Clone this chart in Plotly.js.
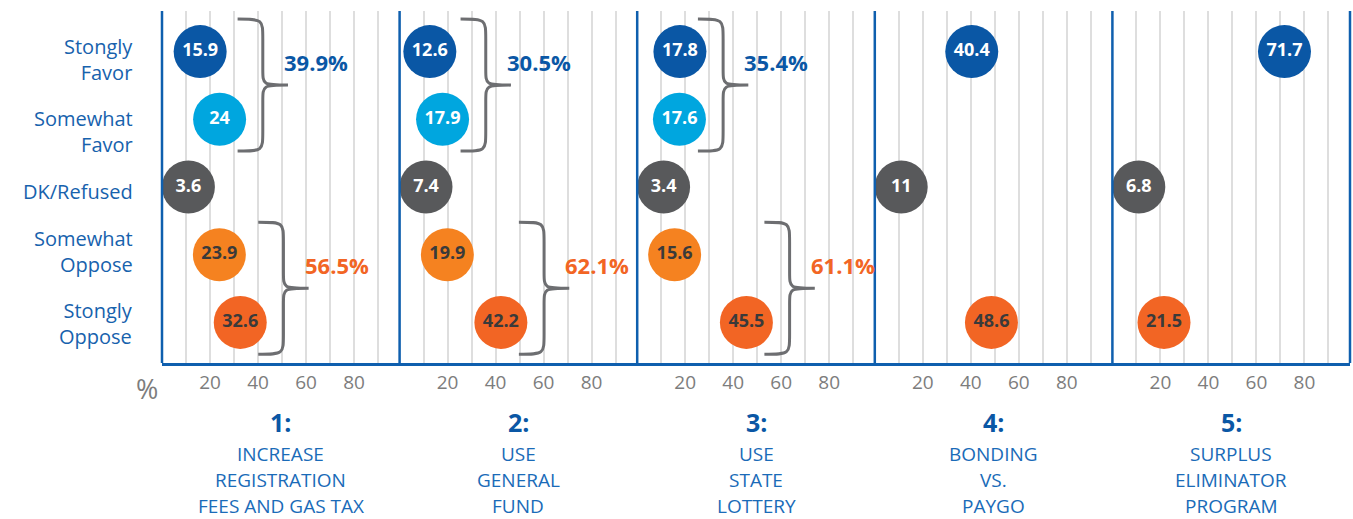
<!DOCTYPE html>
<html><head><meta charset="utf-8">
<script src="https://cdn.plot.ly/plotly-3.0.1.min.js"></script>
<style>html,body{margin:0;padding:0;background:#fff;}#chart{width:1353px;height:519px;}</style>
</head><body><div id="chart"></div>
<script>
const categories = ['Stongly<br>Favor','Somewhat<br>Favor','DK/Refused','Somewhat<br>Oppose','Stongly<br>Oppose'];
const stronglyFavor  = [15.9, 12.6, 17.8, 40.4, 71.7];
const somewhatFavor  = [24,   17.9, 17.6, null, null];
const dkRefused      = [3.6,  7.4,  3.4,  11,   6.8];
const somewhatOppose = [23.9, 19.9, 15.6, null, null];
const stronglyOppose = [32.6, 42.2, 45.5, 48.6, 21.5];
const panelNumbers = ['1:','2:','3:','4:','5:'];
const panelTitles = [
  ['INCREASE','REGISTRATION','FEES AND GAS TAX'],
  ['USE','GENERAL','FUND'],
  ['USE','STATE','LOTTERY'],
  ['BONDING','VS.','PAYGO'],
  ['SURPLUS','ELIMINATOR','PROGRAM']
];
const xTickVals = [10,20,30,40,50,60,70,80,90];
const xTickText = ['','20','','40','','60','','80',''];

const BLUE='#0a57a5', LBLUE='#00a6df', GREY='#58595b', ORANGE='#f58220', RED='#f26524';
const rowColors = [BLUE, LBLUE, GREY, ORANGE, RED];
const rowText = ['#ffffff','#ffffff','#ffffff','#3a3a3a','#3a3a3a'];
const BRACE='#6d6e71', AXIS='#0f5fae', FONT='Open Sans, Arial, sans-serif';
const minX = 11;
// vertical pixel offset of each category label relative to its row centre (label layout)
const labelShift = [7.5, 12.5, 4.5, -3, 1];
const titleLineY = [453.5, 480, 506];

const series = [stronglyFavor, somewhatFavor, dkRefused, somewhatOppose, stronglyOppose];
const nP = 5;
const traces = [], shapes = [], annotations = [];
const layout = {
  width:1353, height:519, margin:{l:162,r:3,t:11,b:156},
  paper_bgcolor:'#fff', plot_bgcolor:'#fff', showlegend:false,
  font:{family:FONT},
  yaxis:{range:[4.6,-0.6], tickvals:[0,1,2,3,4], ticktext:categories, showticklabels:false, showgrid:false, zeroline:false,
         showline:false, ticks:'', anchor:'x', fixedrange:true}
};

function bracePath(x0, x1, yTop, yBot){
  const xm = (x0+x1)/2, yMid=(yTop+yBot)/2, r=0.3, rt=0.24;
  return `M${x0},${yTop} C${xm},${yTop} ${xm},${yTop} ${xm},${yTop+r} L${xm},${yMid-rt} C${xm},${yMid} ${xm},${yMid} ${x1},${yMid} C${xm},${yMid} ${xm},${yMid} ${xm},${yMid+rt} L${xm},${yBot-r} C${xm},${yBot} ${xm},${yBot} ${x0},${yBot}`;
}

categories.forEach((c,i)=>{
  annotations.push({xref:'paper', yref:'y', x:0, y:i, xshift:-27, yshift:-labelShift[i], xanchor:'right', yanchor:'middle',
    align:'right', showarrow:false, text:c, font:{size:20,color:'#1762ad',family:FONT}});
});

for(let p=0;p<nP;p++){
  const xa = p===0?'x':'x'+(p+1);
  const key = p===0?'xaxis':'xaxis'+(p+1);
  layout[key] = {domain:[p/nP,(p+1)/nP], range:[0,99], anchor:'y', tickvals:xTickVals, ticktext:xTickText,
    showgrid:true, gridcolor:'#dedede', gridwidth:2, zeroline:false, showline:true, linecolor:AXIS, linewidth:2.5,
    ticks:'', ticklabelstandoff:1, tickfont:{size:19,color:'#7d7d7d',family:FONT}, fixedrange:true};
  const xs=[], ys=[], cols=[], tcols=[], txt=[];
  series.forEach((s,i)=>{
    const v=s[p]; if(v===null) return;
    xs.push(Math.max(v,minX)); ys.push(i); cols.push(rowColors[i]); tcols.push(rowText[i]); txt.push(String(v));
  });
  traces.push({type:'scatter', mode:'markers+text', xaxis:xa, yaxis:'y', x:xs, y:ys, text:txt,
    textposition:'middle center', hoverinfo:'skip', cliponaxis:false,
    marker:{size:53, color:cols, line:{width:0}},
    textfont:{size:18, color:tcols, family:FONT, weight:700}});
  shapes.push({type:'line', xref:xa+' domain', yref:'y domain', x0:0, x1:0, y0:0, y1:1, line:{color:AXIS,width:2.5}});
  if(p===nP-1) shapes.push({type:'line', xref:xa+' domain', yref:'y domain', x0:1, x1:1, y0:0, y1:1, line:{color:AXIS,width:2.5}});
  [[0,1,BLUE],[3,4,RED]].forEach(([a,b,col])=>{
    const va=series[a][p], vb=series[b][p];
    if(va===null||vb===null) return;
    const x0=Math.max(va,vb)+7.5, x1=x0+21;
    shapes.push({type:'path', xref:xa, yref:'y', path:bracePath(x0,x1,a-0.48,b+0.47), line:{color:BRACE,width:3}});
    const sum=(va+vb).toFixed(1);
    annotations.push({xref:xa, yref:'y', x:x1-2.5, y:a+0.15, xanchor:'left', yanchor:'middle', showarrow:false,
      text:'<b>'+sum+'%</b>', font:{size:22,color:col,family:FONT}});
  });
  annotations.push({xref:xa+' domain', yref:'paper', x:0.5, y:0, yshift:-59, xanchor:'center', yanchor:'middle', showarrow:false,
    text:'<b>'+panelNumbers[p]+'</b>', font:{size:25,color:'#0a57a5',family:FONT}});
  panelTitles[p].forEach((t,k)=>{
    annotations.push({xref:xa+' domain', yref:'paper', x:0.5, y:0, yshift:-(titleLineY[k]-363), xanchor:'center', yanchor:'middle', showarrow:false,
      text:t, font:{size:19,color:'#1a6bb8',family:FONT}});
  });
}
annotations.push({xref:'paper', yref:'paper', x:0, y:0, xshift:-15, yshift:-25, xanchor:'center', yanchor:'middle', showarrow:false,
  text:'%', font:{size:27,color:'#7d7d7d',family:FONT}});
layout.shapes=shapes; layout.annotations=annotations;
Plotly.newPlot('chart', traces, layout, {displayModeBar:false, staticPlot:true});
</script></body></html>
